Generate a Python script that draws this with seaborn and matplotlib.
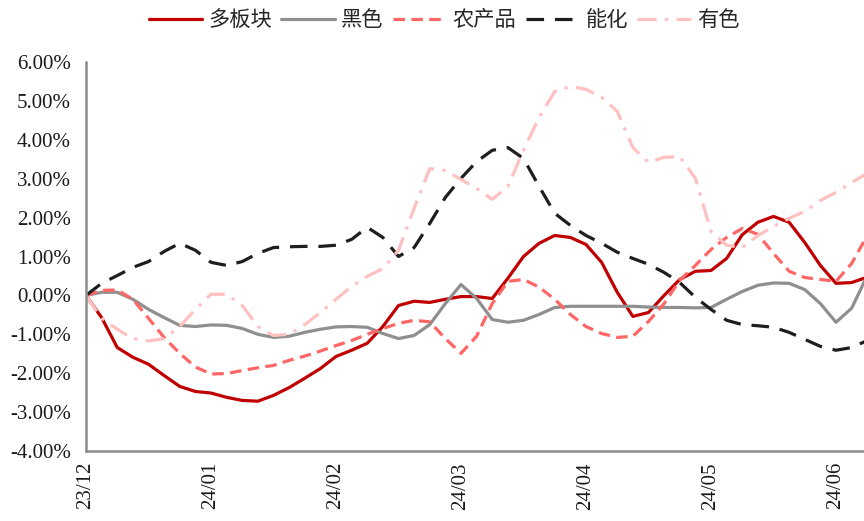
import numpy as np
import matplotlib
matplotlib.use("Agg")
import matplotlib.pyplot as plt
import seaborn as sns
from matplotlib.font_manager import FontProperties
from matplotlib.ticker import FuncFormatter

# month labels shown under the ticks
month_labels = ["23/12", "24/01", "24/02", "24/03", "24/04", "24/05", "24/06"]
# eight observations per month, starting at 23/12
period = np.arange(51) / 8

# cumulative excess return by sector (%)
multi = [0, -0.57, -1.34, -1.59, -1.77, -2.06, -2.34, -2.47, -2.51, -2.62, -2.70, -2.72, -2.57,
         -2.37, -2.13, -1.88, -1.57, -1.41, -1.23, -0.80, -0.26, -0.15, -0.18, -0.10, -0.03,
         -0.03, -0.08, 0.44, 1.00, 1.34, 1.54, 1.49, 1.31, 0.85, 0.08, -0.54, -0.44, 0.00, 0.41,
         0.62, 0.64, 0.95, 1.56, 1.88, 2.03, 1.88, 1.36, 0.77, 0.31, 0.33, 0.47]
ferrous = [0, 0.08, 0.08, -0.10, -0.36, -0.57, -0.77, -0.80, -0.76, -0.77, -0.85, -1.00, -1.08,
           -1.05, -0.95, -0.87, -0.81, -0.80, -0.82, -0.98, -1.11, -1.03, -0.75, -0.21, 0.28,
           -0.08, -0.62, -0.69, -0.64, -0.49, -0.31, -0.28, -0.28, -0.28, -0.28, -0.28, -0.30,
           -0.31, -0.31, -0.32, -0.31, -0.10, 0.10, 0.26, 0.32, 0.31, 0.15, -0.21, -0.69, -0.33, 0.51]
agri = [0, 0.13, 0.14, -0.10, -0.59, -1.08, -1.49, -1.84, -2.02, -2.01, -1.93, -1.86, -1.80,
        -1.67, -1.56, -1.43, -1.29, -1.16, -1.00, -0.85, -0.72, -0.64, -0.68, -1.11, -1.49,
        -1.05, -0.21, 0.36, 0.41, 0.21, -0.10, -0.49, -0.80, -0.98, -1.08, -1.05, -0.67, -0.21,
        0.39, 0.77, 1.18, 1.49, 1.72, 1.57, 1.08, 0.62, 0.46, 0.41, 0.36, 0.82, 1.54]
energy = [0, 0.31, 0.51, 0.72, 0.87, 1.13, 1.34, 1.16, 0.85, 0.77, 0.87, 1.08, 1.23, 1.25, 1.26,
          1.26, 1.29, 1.44, 1.75, 1.49, 1.00, 1.23, 1.85, 2.52, 3.01, 3.44, 3.73, 3.80, 3.52,
          2.80, 2.11, 1.80, 1.54, 1.34, 1.11, 0.95, 0.80, 0.59, 0.33, -0.05, -0.36, -0.64, -0.75,
          -0.78, -0.82, -0.95, -1.13, -1.31, -1.41, -1.34, -1.16]
nonferrous = [0, -0.59, -0.87, -1.11, -1.17, -1.11, -0.80, -0.36, 0.03, 0.03, -0.26, -0.80, -1.03,
              -1.00, -0.75, -0.44, -0.10, 0.23, 0.49, 0.69, 1.16, 2.24, 3.26, 3.21, 2.98, 2.75,
              2.47, 2.80, 3.73, 4.58, 5.24, 5.37, 5.30, 5.09, 4.73, 3.80, 3.42, 3.55, 3.57, 3.01,
              1.65, 1.29, 1.23, 1.54, 1.77, 1.98, 2.16, 2.44, 2.65, 2.90, 3.14]

series = [
    ("多板块", multi, dict(color="#C00000", linestyle="-")),
    ("黑色", ferrous, dict(color="#8F8F8F", linestyle="-")),
    ("农产品", agri, dict(color="#FF6666", linestyle=(0, (3.6, 2.0)))),
    ("能化", energy, dict(color="#1E1E1E", linestyle=(0, (5.5, 3.4)))),
    ("有色", nonferrous, dict(color="#FFC0C0", linestyle=(0, (6.0, 2.6, 1.0, 2.6)))),
]

sns.set_style("white")
plt.rcParams["font.family"] = ["Liberation Serif", "DejaVu Serif"]

fig = plt.figure(figsize=(8.64, 5.21), dpi=100)
ax = fig.add_axes([86 / 864, 70 / 521, 778 / 864, 389 / 521])

for name, values, style in series:
    sns.lineplot(x=period, y=values, ax=ax, label=name, linewidth=2.3,
                 solid_joinstyle="round", dash_joinstyle="round", **style)

ax.set_xlim(0, 778 / 125)
ax.set_ylim(-4, 6)
ax.set_xticks(range(len(month_labels)))
ax.set_xticklabels(month_labels, rotation=90)
ax.set_yticks(range(-4, 7))
ax.yaxis.set_major_formatter(FuncFormatter(lambda v, _: f"{v:.2f}%"))
ax.set_xlabel("")
ax.set_ylabel("")

for side in ("top", "right"):
    ax.spines[side].set_visible(False)
for side in ("left", "bottom"):
    ax.spines[side].set_color("#8C8C8C")
    ax.spines[side].set_linewidth(1.8)
ax.tick_params(direction="in", length=6, width=1.6, color="#8C8C8C",
               labelsize=15, labelcolor="#1A1A1A")
ax.tick_params(axis="y", pad=11)
ax.tick_params(axis="x", pad=8)
ax.grid(False)

handles, labels = ax.get_legend_handles_labels()
ax.get_legend().remove()
fig.legend(handles, labels, loc="center", bbox_to_anchor=(444 / 864, 1 - 20 / 521),
           ncol=5, frameon=False, handlelength=2.5, handletextpad=0.3, columnspacing=0.45,
           prop=FontProperties(family=["Noto Sans CJK SC", "DejaVu Sans"], size=15.3))

fig.savefig("out.png", dpi=100)
